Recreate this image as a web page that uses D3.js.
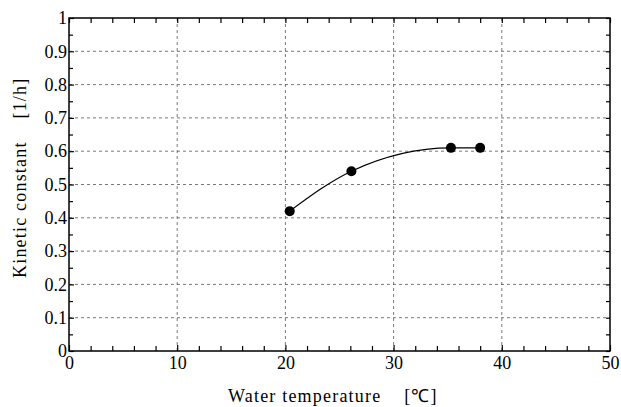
<!DOCTYPE html>
<html>
<head>
<meta charset="utf-8">
<script src="https://d3js.org/d3.v7.min.js"></script>
<style>
  body { margin: 0; background: #fff; }
</style>
</head>
<body>
<div id="chart"></div>
<script>
// data
var temperature = [20.4, 26.1, 35.3, 38.0];
var kinetic = [0.42, 0.54, 0.61, 0.61];
var xTicks = [0, 10, 20, 30, 40, 50];
var yTicks = [0, 0.1, 0.2, 0.3, 0.4, 0.5, 0.6, 0.7, 0.8, 0.9, 1];

var serif = "Liberation Serif";

var width = 621, height = 407;
var margin = {top: 18, right: 11, bottom: 56, left: 69};
var w = width - margin.left - margin.right,
    h = height - margin.top - margin.bottom;

var svg = d3.select("#chart")
  .append("svg")
    .attr("width", width)
    .attr("height", height);

var g = svg.append("g")
    .attr("transform", "translate(" + margin.left + "," + margin.top + ")");

var x = d3.scaleLinear().domain([0, 50]).range([0, w]);
var y = d3.scaleLinear().domain([0, 1]).range([h, 0]);

// grid lines
g.selectAll(".vgrid")
  .data(xTicks.slice(1, -1))
  .enter().append("line")
    .attr("x1", function(d) { return x(d); })
    .attr("x2", function(d) { return x(d); })
    .attr("y1", 0).attr("y2", h)
    .attr("stroke", "#555").attr("stroke-width", 0.8)
    .attr("stroke-dasharray", "3,3");

g.selectAll(".hgrid")
  .data(yTicks.slice(1, -1))
  .enter().append("line")
    .attr("x1", 0).attr("x2", w)
    .attr("y1", function(d) { return y(d); })
    .attr("y2", function(d) { return y(d); })
    .attr("stroke", "#555").attr("stroke-width", 0.8)
    .attr("stroke-dasharray", "3,3");

// inward ticks on all four sides (minor every 2 / 0.05)
var xMinor = d3.range(0, 51, 2).filter(function(d) { return d % 10 !== 0; });
var yMinor = d3.range(1, 20, 2).map(function(d) { return d * 0.05; });

function fmt(d) { return d === 0 || d === 1 ? String(d) : d3.format(".1f")(d); }

g.append("g")
  .attr("transform", "translate(0," + h + ")")
  .call(d3.axisBottom(x).tickValues(xTicks).tickSize(-6).tickPadding(5).tickFormat(d3.format("d")))
  .call(function(a) { a.select(".domain").remove(); });

g.append("g")
  .attr("transform", "translate(0," + h + ")")
  .call(d3.axisBottom(x).tickValues(xMinor).tickSize(-5).tickFormat(""))
  .call(function(a) { a.select(".domain").remove(); });

g.append("g")
  .call(d3.axisTop(x).tickValues(xTicks.concat(xMinor)).tickSize(-5).tickFormat(""))
  .call(function(a) { a.select(".domain").remove(); });

g.append("g")
  .call(d3.axisLeft(y).tickValues(yTicks).tickSize(-5).tickPadding(2).tickFormat(fmt))
  .call(function(a) { a.select(".domain").remove(); });

g.append("g")
  .call(d3.axisLeft(y).tickValues(yMinor).tickSize(-4).tickFormat(""))
  .call(function(a) { a.select(".domain").remove(); });

g.append("g")
  .attr("transform", "translate(" + w + ",0)")
  .call(d3.axisRight(y).tickValues(yTicks.concat(yMinor)).tickSize(-4).tickFormat(""))
  .call(function(a) { a.select(".domain").remove(); });

g.selectAll("g").attr("font-family", serif);
g.selectAll(".tick text")
  .attr("font-family", serif)
  .attr("font-size", 18)
  .attr("fill", "#000");
g.selectAll(".tick line").attr("stroke", "#000").attr("stroke-width", 1.2);

// frame
g.append("rect")
  .attr("width", w).attr("height", h)
  .attr("fill", "none").attr("stroke", "#000").attr("stroke-width", 1.5);

// curve and points
var pts = temperature.map(function(t, i) { return [t, kinetic[i]]; });
var line = d3.line()
  .x(function(d) { return x(d[0]); })
  .y(function(d) { return y(d[1]); })
  .curve(d3.curveMonotoneX);

g.append("path")
  .datum(pts)
  .attr("d", line)
  .attr("fill", "none")
  .attr("stroke", "#000")
  .attr("stroke-width", 1.2);

g.selectAll("circle")
  .data(pts)
  .enter().append("circle")
    .attr("cx", function(d) { return x(d[0]); })
    .attr("cy", function(d) { return y(d[1]); })
    .attr("r", 5)
    .attr("fill", "#000");

// axis titles
svg.append("text")
  .attr("x", 228)
  .attr("y", 402)
  .attr("font-family", serif)
  .attr("font-size", 18)
  .attr("letter-spacing", "1.2px")
  .attr("xml:space", "preserve")
  .text("Water temperature    [\u2103]");

svg.append("text")
  .attr("transform", "translate(26,278) rotate(-90)")
  .attr("font-family", serif)
  .attr("font-size", 18)
  .attr("letter-spacing", "1.2px")
  .attr("xml:space", "preserve")
  .text("Kinetic constant    [1/h]");
</script>
</body>
</html>
